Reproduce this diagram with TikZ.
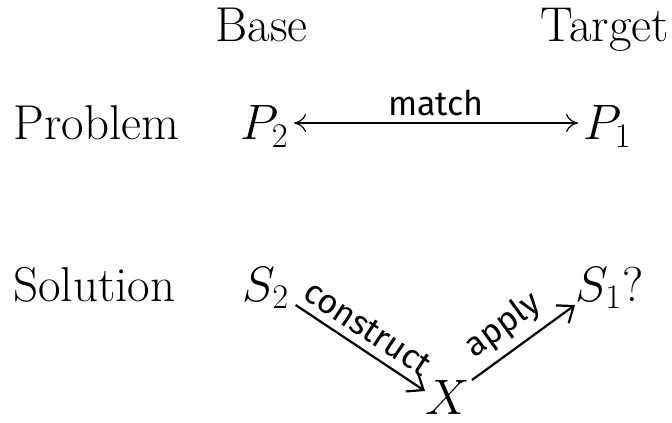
\documentclass[tikz,border=0pt]{standalone}
\usepackage{fontspec}
\newfontfamily\hand{Fira Sans}
\usetikzlibrary{arrows.meta}
\begin{document}
\begin{tikzpicture}[x=0.5pt,y=-0.5pt,
  txt/.style={inner sep=0pt,anchor=base west,font=\fontsize{24.5}{29}\selectfont},
  lbl/.style={font=\hand\fontsize{17}{19}\selectfont,inner sep=1pt},
  thin/.style={line width=0.6pt,{To[length=6pt,width=9pt]}-{To[length=6pt,width=9pt]}},
  handarrow/.style={line width=1.1pt,-{Straight Barb[length=7pt,width=11pt]}}]
\useasboundingbox (0,0) rectangle (672,422);
\node[txt,anchor=base] (base) at (261.5,42) {Base};
\node[txt] (target) at (540,42) {Target};
\node[txt] (problem) at (13,140) {Problem};
\node[txt] (p2) at (240,140) {$P_2$};
\node[txt] (p1) at (583,140) {$P_1$};
\node[txt] (solution) at (13,301) {Solution};
\node[txt] (s2) at (242,301) {$S_2$};
\node[txt] (s1) at (575,301) {$S_1$?};
\node[txt,anchor=base] (x) at (448,414) {$X$};
\coordinate (m1) at ([shift={(5,-17)}]p2.base east);
\coordinate (m2) at ([shift={(-5,-17)}]p1.base west);
\coordinate (c1) at ([shift={(6,4)}]s2.base east);
\coordinate (c2) at ([shift={(-23,-23)}]x.base);
\coordinate (a1) at ([shift={(24,-34)}]x.base);
\coordinate (a2) at ([shift={(0,4)}]s1.base west);
\draw[thin] (m1) -- node[lbl,above=2pt] {match} (m2);
\draw[handarrow] (c1) -- node[lbl,sloped,above=3pt,pos=0.47] {construct} (c2);
\draw[handarrow] (a1) -- node[lbl,sloped,above=3pt,pos=0.45] {apply} (a2);
\end{tikzpicture}
\end{document}
